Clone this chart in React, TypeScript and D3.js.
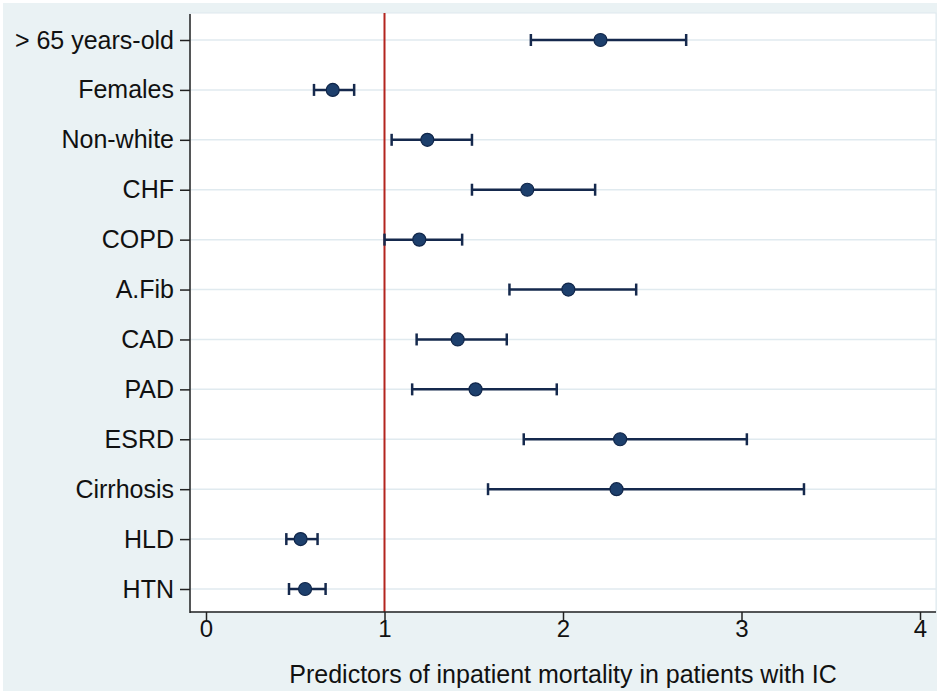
// forest plot of inpatient mortality predictors
import { useEffect, useRef } from 'react';
import * as d3 from 'd3';

const categories = ['> 65 years-old', 'Females', 'Non-white', 'CHF', 'COPD', 'A.Fib', 'CAD', 'PAD', 'ESRD', 'Cirrhosis', 'HLD', 'HTN'];
const oddsRatio = [2.21, 0.71, 1.24, 1.80, 1.195, 2.03, 1.41, 1.51, 2.32, 2.30, 0.53, 0.555];
const ciLow = [1.82, 0.605, 1.04, 1.49, 1.00, 1.70, 1.18, 1.155, 1.78, 1.58, 0.45, 0.465];
const ciHigh = [2.69, 0.83, 1.49, 2.18, 1.435, 2.41, 1.685, 1.965, 3.03, 3.35, 0.625, 0.67];
const xTicks = [0, 1, 2, 3, 4];
const axisTitle = 'Predictors of inpatient mortality in patients with IC';

const W = 937, H = 691;

function ForestPlot() {
    const ref = useRef<SVGSVGElement>(null);

    useEffect(() => {
        const svg = d3.select(ref.current);
        svg.selectAll('*').remove();

        const plot = { left: 190, right: 936, top: 13, bottom: 612 };
        const x = d3.scaleLinear().domain([0, 4]).range([206, 920]);
        const y = d3.scalePoint().domain(categories).range([40, 589]);
        const font = '"Liberation Sans", Arial, sans-serif';
        const navy = '#15294d';

        // backgrounds
        svg.append('rect').attr('width', W).attr('height', H).attr('fill', '#ffffff');
        svg.append('rect').attr('x', 3).attr('y', 3).attr('width', W - 3).attr('height', H - 3).attr('fill', '#eaf2f4');
        svg.append('rect')
            .attr('x', plot.left).attr('y', plot.top)
            .attr('width', plot.right - plot.left).attr('height', plot.bottom - plot.top)
            .attr('fill', '#ffffff').attr('stroke', '#dde8ee').attr('stroke-width', 1);

        // gridlines
        svg.append('g').selectAll('line').data(categories).join('line')
            .attr('x1', plot.left).attr('x2', plot.right)
            .attr('y1', d => y(d)!).attr('y2', d => y(d)!)
            .attr('stroke', '#e0eaef').attr('stroke-width', 1.5);

        // reference line at 1
        svg.append('line')
            .attr('x1', x(1)).attr('x2', x(1))
            .attr('y1', plot.top).attr('y2', plot.bottom)
            .attr('stroke', '#b3251f').attr('stroke-width', 2);

        // y axis
        const yAxis = svg.append('g').attr('transform', `translate(${plot.left},0)`)
            .call(d3.axisLeft(y).tickSize(10).tickPadding(6));
        yAxis.select('.domain').remove();
        yAxis.append('line').attr('x1', 0).attr('x2', 0).attr('y1', 14).attr('y2', plot.bottom + 1)
            .attr('stroke', '#222').attr('stroke-width', 1.5);
        yAxis.selectAll('.tick line').attr('stroke', '#222').attr('stroke-width', 1.5);
        yAxis.selectAll('.tick text')
            .attr('font-family', font).attr('font-size', 25).attr('fill', '#111');

        // x axis
        const xAxis = svg.append('g').attr('transform', `translate(0,${plot.bottom})`)
            .call(d3.axisBottom(x).tickValues(xTicks).tickFormat(d3.format('d')).tickSize(8).tickPadding(0));
        xAxis.select('.domain').remove();
        xAxis.append('line').attr('x1', plot.left).attr('x2', plot.right).attr('y1', 0).attr('y2', 0)
            .attr('stroke', '#222').attr('stroke-width', 1.5);
        xAxis.selectAll('.tick line').attr('stroke', '#222').attr('stroke-width', 1.5);
        xAxis.selectAll('.tick text')
            .attr('font-family', font).attr('font-size', 24).attr('fill', '#111');

        svg.append('text')
            .attr('x', (plot.left + plot.right) / 2).attr('y', 683)
            .attr('text-anchor', 'middle')
            .attr('font-family', font).attr('font-size', 25).attr('fill', '#111')
            .text(axisTitle);

        // error bars + points
        const rows = categories.map((c, i) => ({ c, or: oddsRatio[i], lo: ciLow[i], hi: ciHigh[i] }));
        const g = svg.append('g');
        g.selectAll('line.ci').data(rows).join('line').attr('class', 'ci')
            .attr('x1', d => x(d.lo)).attr('x2', d => x(d.hi))
            .attr('y1', d => y(d.c)!).attr('y2', d => y(d.c)!)
            .attr('stroke', navy).attr('stroke-width', 2.5);
        for (const side of ['lo', 'hi'] as const) {
            g.selectAll(`line.cap-${side}`).data(rows).join('line').attr('class', `cap-${side}`)
                .attr('x1', d => x(d[side])).attr('x2', d => x(d[side]))
                .attr('y1', d => y(d.c)! - 6).attr('y2', d => y(d.c)! + 6)
                .attr('stroke', navy).attr('stroke-width', 2.5);
        }
        g.selectAll('circle').data(rows).join('circle')
            .attr('cx', d => x(d.or)).attr('cy', d => y(d.c)!)
            .attr('r', 6.5)
            .attr('fill', '#1d3f6c').attr('stroke', '#10264a').attr('stroke-width', 1.2);
    }, []);

    return <svg ref={ref} width={W} height={H} style={{ display: 'block' }} />;
}

export default function App() {
    return (
        <div style={{ position: 'absolute', left: 0, top: 0 }}>
            <ForestPlot />
        </div>
    );
}
